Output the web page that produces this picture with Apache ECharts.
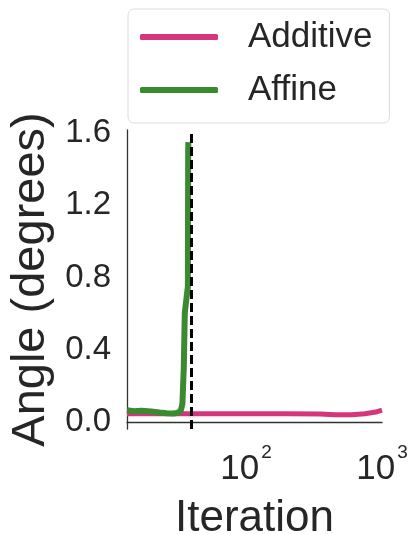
<!DOCTYPE html>
<html>
<head>
<meta charset="utf-8">
<script src="https://cdn.jsdelivr.net/npm/echarts@6/dist/echarts.min.js"></script>
<style>
  html, body { margin: 0; padding: 0; background: #fff; }
  #chart { width: 409px; height: 534px; }
</style>
</head>
<body>
<div id="chart"></div>
<script>
  // iteration (log x) / angle in degrees
  var additiveIter = [13.3, 20, 30, 37, 60, 100, 200, 350, 450, 600, 750, 900, 1000];
  var additiveAngle = [0.045, 0.045, 0.045, 0.045, 0.046, 0.045, 0.045, 0.044, 0.04, 0.04, 0.045, 0.055, 0.065];
  var affineIter = [13.3, 15, 17, 20, 23, 26, 29, 31, 33, 34, 34.8, 35.4, 35.6, 36.5, 37.3, 37.5, 37.6];
  var affineAngle = [0.065, 0.06, 0.062, 0.058, 0.052, 0.048, 0.047, 0.05, 0.06, 0.1, 0.3, 0.6, 0.62, 0.63, 0.75, 1.5, 1.55];
  var switchIter = 39.5;
  var yTicks = [0, 0.4, 0.8, 1.2, 1.6];
  var xTicks = [100, 1000];

  function pairs(xs, ys) {
    var out = [];
    for (var i = 0; i < xs.length; i++) out.push([xs[i], ys[i]]);
    return out;
  }

  var textColor = '#262626';
  var font = 'Liberation Sans';

  var chart = echarts.init(document.getElementById('chart'));
  chart.setOption({
    animation: false,
    textStyle: { fontFamily: font, color: textColor },
    legend: {
      orient: 'vertical',
      left: 128,
      top: 9,
      padding: [8, 17, 13, 12],
      itemGap: 13,
      itemWidth: 78,
      itemHeight: 6,
      icon: 'roundRect',
      backgroundColor: '#fff',
      borderColor: '#dcdcdc',
      borderWidth: 1,
      borderRadius: 6,
      textStyle: { fontSize: 35, lineHeight: 40, color: textColor, fontFamily: font, padding: [0, 0, 0, 25] },
      data: ['Additive', 'Affine']
    },
    grid: { left: 127, right: 27, top: 130, bottom: 105, outerBoundsMode: 'none', containLabel: false },
    xAxis: {
      type: 'log',
      logBase: 10,
      min: 13.3,
      max: 1000,
      name: 'Iteration',
      nameLocation: 'middle',
      nameGap: 68,
      nameTextStyle: { fontSize: 44, color: textColor, fontFamily: font, verticalAlign: 'top' },
      axisLine: { lineStyle: { color: '#333', width: 1.3 } },
      axisTick: { show: false },
      splitLine: { show: false },
      axisLabel: {
        customValues: xTicks,
        margin: 14,
        color: textColor,
        formatter: function (v) {
          return '{a|10}{b|' + Math.round(Math.log10(v)) + '}';
        },
        rich: {
          a: { fontSize: 35, lineHeight: 44, fontFamily: font, color: textColor, verticalAlign: 'bottom' },
          b: { fontSize: 19, fontFamily: font, color: textColor, verticalAlign: 'top', padding: [0, 0, 0, 2] }
        }
      }
    },
    yAxis: {
      type: 'value',
      min: -0.039,
      max: 1.617,
      name: 'Angle (degrees)',
      nameLocation: 'middle',
      nameGap: 72,
      nameTextStyle: { fontSize: 47, color: textColor, fontFamily: font },
      axisLine: { show: true, lineStyle: { color: '#333', width: 1.3 } },
      axisTick: { show: false },
      splitLine: { show: false },
      axisLabel: {
        customValues: yTicks,
        fontSize: 33,
        margin: 16,
        color: textColor,
        formatter: function (v) { return v.toFixed(1); }
      }
    },
    series: [
      {
        name: 'Additive',
        type: 'line',
        data: pairs(additiveIter, additiveAngle),
        showSymbol: false,
        color: '#d6347b',
        lineStyle: { width: 5, color: '#d6347b' }
      },
      {
        name: 'Affine',
        type: 'line',
        data: pairs(affineIter, affineAngle),
        showSymbol: false,
        color: '#3a8a2f',
        lineStyle: { width: 6, color: '#3a8a2f' },
        markLine: {
          silent: true,
          symbol: 'none',
          label: { show: false },
          lineStyle: { color: '#000', width: 3, type: [9, 4] },
          data: [{ xAxis: switchIter }]
        }
      }
    ]
  });
</script>
</body>
</html>
